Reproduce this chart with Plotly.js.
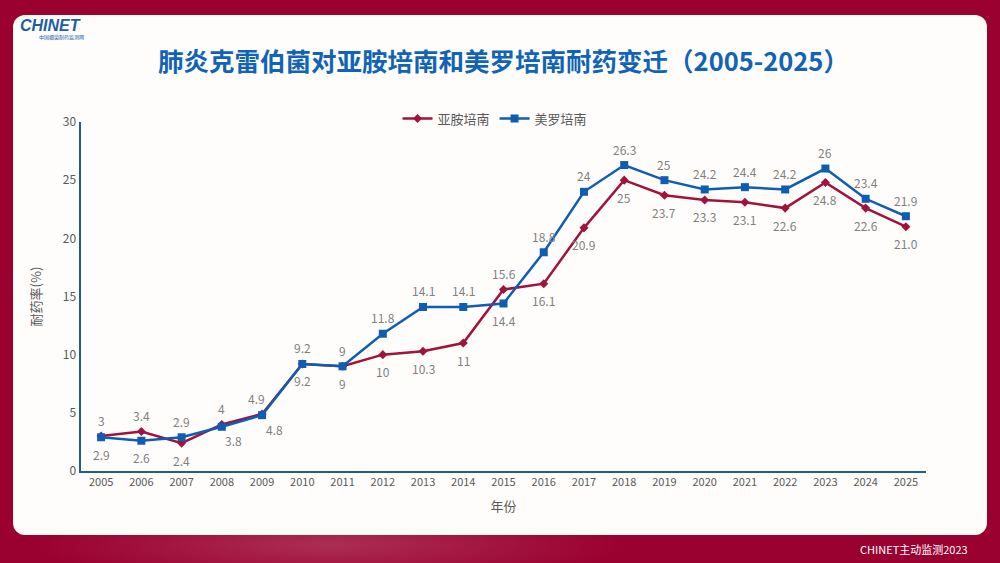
<!DOCTYPE html>
<html>
<head>
<meta charset="utf-8">
<script src="https://cdn.plot.ly/plotly-3.0.1.min.js"></script>
<style>
  html, body { margin: 0; padding: 0; }
  body {
    width: 1000px; height: 563px; overflow: hidden;
    background: #9a0030;
    background-image: radial-gradient(ellipse 300px 40px at 330px 545px, rgba(255,255,255,0.18), rgba(255,255,255,0));
    position: relative;
  }
  #panel {
    position: absolute; left: 13px; top: 15px; width: 974px; height: 520px;
    background: #fefdfb; border-radius: 12px;
  }
  #plot { position: absolute; left: 0; top: 0; width: 1000px; height: 563px; }
</style>
</head>
<body>
<div id="panel"></div>
<div id="plot"></div>
<script>
// years and resistance rates (%)
var years = ['2005','2006','2007','2008','2009','2010','2011','2012','2013','2014','2015',
             '2016','2017','2018','2019','2020','2021','2022','2023','2024','2025'];
var imipenem = [3, 3.4, 2.4, 4, 4.9, 9.2, 9, 10, 10.3, 11, 15.6,
                16.1, 20.9, 25, 23.7, 23.3, 23.1, 22.6, 24.8, 22.6, 21.0];
var meropenem = [2.9, 2.6, 2.9, 3.8, 4.8, 9.2, 9, 11.8, 14.1, 14.1, 14.4,
                 18.8, 24, 26.3, 25, 24.2, 24.4, 24.2, 26, 23.4, 21.9];
var imipenemLabels = ['3','3.4','2.4','4','4.9','9.2','9','10','10.3','11','15.6',
                      '16.1','20.9','25','23.7','23.3','23.1','22.6','24.8','22.6','21.0'];
var meropenemLabels = ['2.9','2.6','2.9','3.8','4.8','9.2','9','11.8','14.1','14.1','14.4',
                       '18.8','24','26.3','25','24.2','24.4','24.2','26','23.4','21.9'];

var red = '#a1133d';
var blue = '#0f5db3';
var grey = '#595959';
var labelFont = { family: 'Noto Sans CJK SC, Noto Sans, sans-serif', size: 12, color: '#7f7f7f' };

// label placement: 'up', 'down' or 'downright'
function imiSide(i) {
  return (i === 0 || i === 1 || i === 3 || i === 4 || i === 10) ? 'up' : 'down';
}
function meroSide(i) {
  if (i === 0 || i === 1 || i === 10) return 'down';
  if (i === 3 || i === 4) return 'downright';
  return 'up';
}

// x is the category index on the category axis
function labelAnn(i, y, text, side) {
  var a = { x: i, y: y, xref: 'x', yref: 'y', text: text, showarrow: false,
            font: labelFont, xanchor: 'center', yanchor: 'middle', xshift: 0, yshift: 0 };
  if (side === 'up') { a.yshift = 16; if (text === '4.9') a.xshift = -6; }
  else if (side === 'down') a.yshift = -17;
  else { a.yshift = -14; a.xshift = 12; }
  return a;
}

var annotations = [];
years.forEach(function (yr, i) {
  annotations.push(labelAnn(i, imipenem[i], imipenemLabels[i], imiSide(i)));
  annotations.push(labelAnn(i, meropenem[i], meropenemLabels[i], meroSide(i)));
});

annotations.push(
  {
    text: '<b><i>CHINET</i></b>', xref: 'paper', yref: 'paper',
    x: -0.074, y: 1.276, xanchor: 'left', yanchor: 'middle', showarrow: false,
    font: { family: 'Liberation Sans, sans-serif', size: 16, color: '#1a5fa8' }
  },
  {
    text: '中国细菌耐药监测网', xref: 'paper', yref: 'paper',
    x: -0.052, y: 1.243, xanchor: 'left', yanchor: 'middle', showarrow: false,
    font: { size: 5, color: '#1a5fa8' }
  },
  {
    text: 'CHINET主动监测2023', xref: 'paper', yref: 'paper',
    x: 1.052, y: -0.224, xanchor: 'right', yanchor: 'middle', showarrow: false,
    font: { size: 11, color: '#ffffff' }
  }
);

var data = [
  {
    x: years, y: imipenem, name: '亚胺培南', type: 'scatter', mode: 'lines+markers',
    line: { color: red, width: 2.5 },
    marker: { symbol: 'diamond', size: 7, color: red },
    cliponaxis: false
  },
  {
    x: years, y: meropenem, name: '美罗培南', type: 'scatter', mode: 'lines+markers',
    line: { color: blue, width: 2.5 },
    marker: { symbol: 'square', size: 8, color: blue },
    cliponaxis: false
  }
];

var layout = {
  width: 1000, height: 563,
  paper_bgcolor: 'rgba(0,0,0,0)',
  plot_bgcolor: 'rgba(0,0,0,0)',
  margin: { l: 81, r: 74, t: 122, b: 92 },
  font: { family: 'Noto Sans CJK SC, Noto Sans, sans-serif', color: grey },
  title: {
    text: '肺炎克雷伯菌对亚胺培南和美罗培南耐药变迁（2005-2025）',
    font: { size: 25.5, color: '#1063b5', weight: 'bold' },
    x: 0.5, xref: 'paper', y: 0.89, yref: 'container', yanchor: 'middle'
  },
  xaxis: {
    type: 'category', range: [-0.5, 20.5],
    showline: true, linecolor: '#1e5f82', linewidth: 2,
    showgrid: false, zeroline: false, ticks: '',
    tickfont: { size: 11, color: grey },
    title: { text: '年份', font: { size: 13, color: grey }, standoff: 14 }
  },
  yaxis: {
    range: [0, 30], dtick: 5,
    showline: true, linecolor: '#1e5f82', linewidth: 2.5,
    showgrid: false, zeroline: false, ticks: '',
    tickfont: { size: 12, color: grey },
    title: { text: '耐药率(%)', font: { size: 13, color: grey }, standoff: 18 }
  },
  showlegend: true,
  legend: {
    orientation: 'h', x: 0.49, xanchor: 'center', y: 1.01, yanchor: 'middle',
    font: { size: 13, color: grey }, bgcolor: 'rgba(0,0,0,0)'
  },
  annotations: annotations
};

Plotly.newPlot('plot', data, layout, { displayModeBar: false, staticPlot: true });
</script>
</body>
</html>
